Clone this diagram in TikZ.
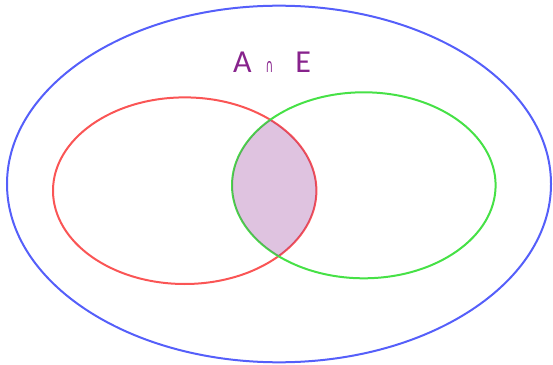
\documentclass[tikz,border=0pt]{standalone}
\usepackage{fontspec}
\setmainfont{Carlito}
\newfontfamily\capfont{DejaVu Sans}
\definecolor{univblue}{RGB}{85,95,250}
\definecolor{setred}{RGB}{250,85,85}
\definecolor{setgreen}{RGB}{70,225,70}
\definecolor{capviolet}{RGB}{135,35,140}

\begin{document}
\begin{tikzpicture}[x=1pt, y=1pt,
  setline/.style={line width=2pt},
  capfill/.style={fill=capviolet, fill opacity=0.27},
  caplabel/.style={anchor=base west, inner sep=0pt, text=capviolet, font=\fontsize{32}{32}\selectfont}
]
\useasboundingbox (0,0) rectangle (553,364);

% centres of the sets
\coordinate (univ) at (279,180);
\coordinate (setA) at (184.7,173.3);
\coordinate (setE) at (363.8,178.7);

\draw[setline, univblue] (univ) ellipse [x radius=272, y radius=178.3];
\draw[setline, setred] (setA) ellipse [x radius=131.7, y radius=93.3];
\draw[setline, setgreen] (setE) ellipse [x radius=131.8, y radius=93];

% intersection
\begin{scope}
  \clip (setA) ellipse [x radius=131.7, y radius=93.3];
  \fill[capfill] (setE) ellipse [x radius=131.8, y radius=93];
\end{scope}

\node[caplabel] (lab) at (233,291) {A\hspace{14pt}\scalebox{0.55}[1]{\capfont\fontsize{19}{19}\selectfont ∩}\hspace{22pt}E};
\end{tikzpicture}
\end{document}
